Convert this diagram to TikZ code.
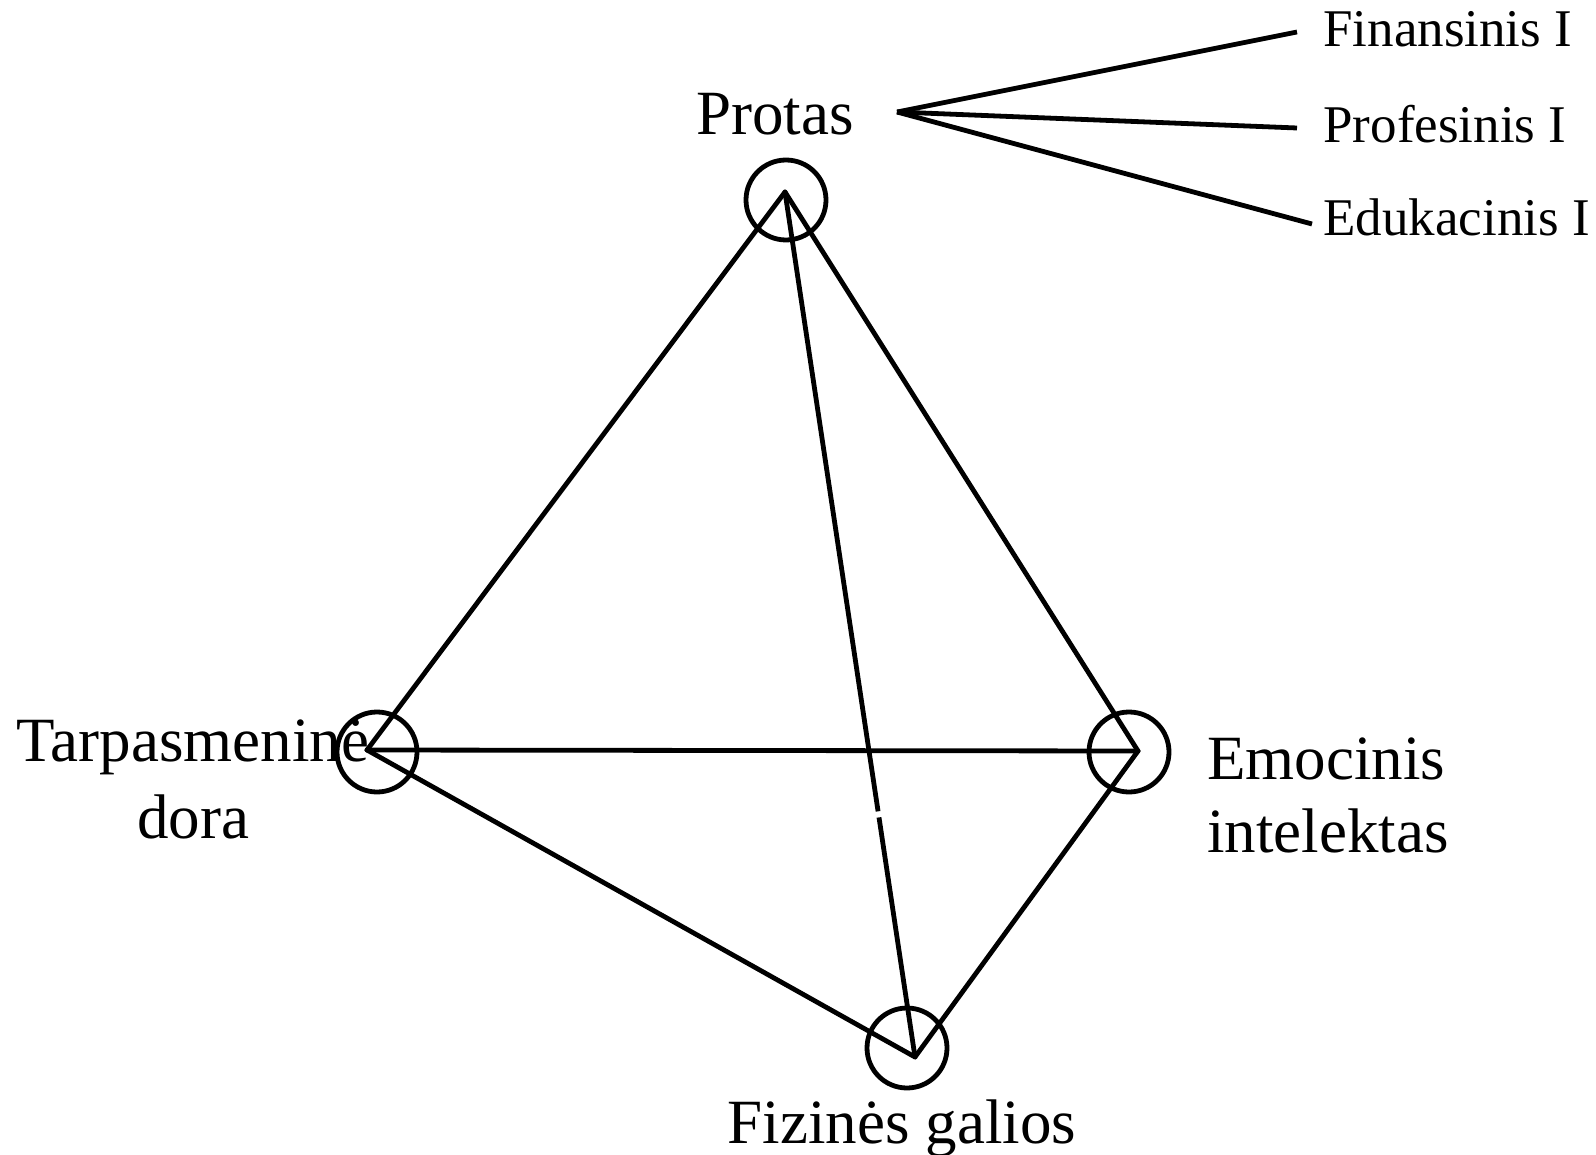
\documentclass[tikz,border=0pt]{standalone}
\usepackage{fontspec}
\setmainfont{Liberation Serif}
\usetikzlibrary{calc}
\begin{document}
\begin{tikzpicture}[x=0.5pt,y=-0.5pt,
  edge/.style={line width=2.4pt, line cap=round, line join=round},
  ring/.style={circle, draw, line width=2.4pt, minimum size=40pt, inner sep=0pt},
  biglabel/.style={font=\fontsize{31.5pt}{36.5pt}\selectfont, inner sep=0pt},
  smalllabel/.style={font=\fontsize{26.5pt}{31pt}\selectfont, inner sep=0pt}]
\useasboundingbox (0,0) rectangle (1596,1155);
% rings
\node[ring] (cP) at (786,200) {};
\node[ring] (cT) at (377,752) {};
\node[ring] (cE) at (1129,752) {};
\node[ring] (cF) at (907,1048) {};
% vertices
\coordinate (p) at (785,192);
\coordinate (t) at (367,750);
\coordinate (e) at (1138,751);
\coordinate (f) at (915,1057);
% edges
\draw[edge] (p) -- (t);
\draw[edge] (p) -- (e);
\draw[edge] (t) -- (e);
\draw[edge] (t) -- (f);
\draw[edge] (e) -- (f);
\draw[edge, line cap=butt] (p) -- ($(p)!0.716!(f)$) ($(p)!0.723!(f)$) -- (f);
% labels
\node[biglabel, anchor=base] (lP) at (775,135) {Protas};
\node[biglabel, anchor=base] (lF) at (902,1143) {Fizinės galios};
\node[biglabel, anchor=north, align=center] (lT) at (193,719) {Tarpasmeninė\\[2pt]dora};
\node[biglabel, anchor=north west, align=left] (lE) at (1207,737) {Emocinis\\intelektas};
% fan
\coordinate (o) at (897,112);
\node[smalllabel, anchor=base west] (f1) at (1323,47) {Finansinis I};
\node[smalllabel, anchor=base west] (f2) at (1323,143) {Profesinis I};
\node[smalllabel, anchor=base west] (f3) at (1323,236) {Edukacinis I};
\coordinate (e1) at (1297,32);
\coordinate (e2) at (1297,128);
\coordinate (e3) at (1312,224);
\draw[edge, line cap=butt] (o) -- (e1);
\draw[edge, line cap=butt] (o) -- (e2);
\draw[edge, line cap=butt] (o) -- (e3);
\end{tikzpicture}
\end{document}
